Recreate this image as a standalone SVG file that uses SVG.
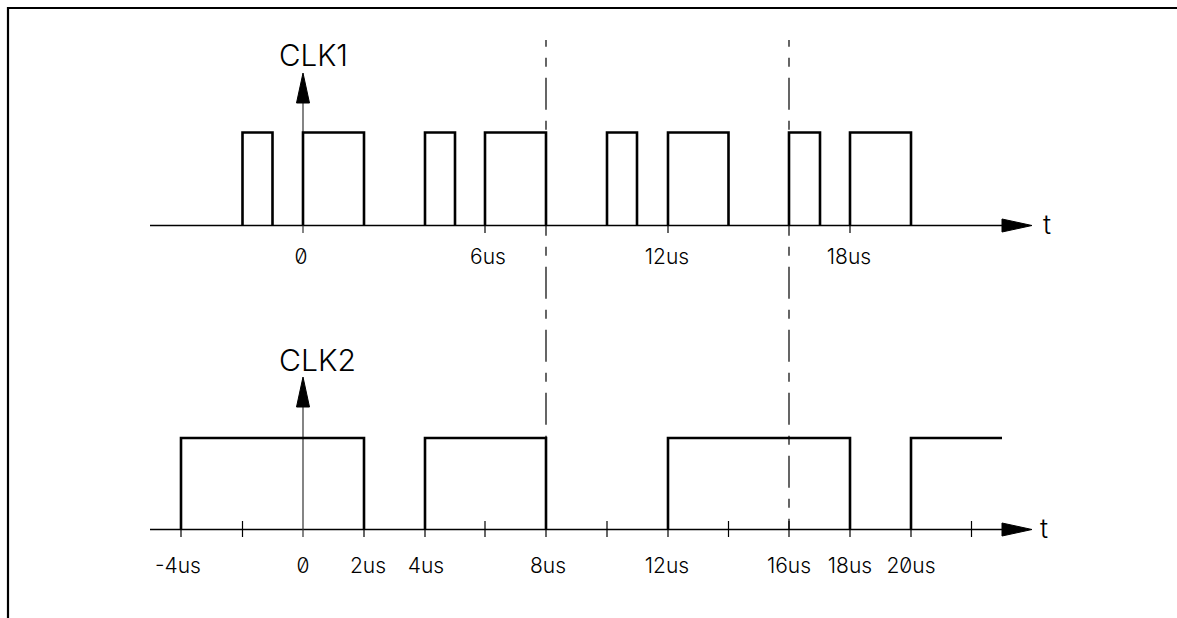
<svg xmlns="http://www.w3.org/2000/svg" width="1177" height="618" viewBox="0 0 1177 618">
  <defs>
    <style>
      .frame{fill:none;stroke:#000;stroke-width:2.2}
      .axis{fill:none;stroke:#000;stroke-width:1.3}
      .yaxis{fill:none;stroke:#333;stroke-width:1.2}
      .sig{fill:none;stroke:#000;stroke-width:2.6;stroke-linejoin:miter}
      .tick{fill:none;stroke:#000;stroke-width:1.2}
      .dd{fill:none;stroke:#000;stroke-width:1.2;stroke-dasharray:32 11 9 11;stroke-dashoffset:25.3}
      .lbl{font-family:Inter,"Liberation Sans",sans-serif;font-weight:300;font-size:21px;fill:#000;text-anchor:middle;font-variant-numeric:slashed-zero;font-feature-settings:"zero" 1}
      .title{font-family:Inter,"Liberation Sans",sans-serif;font-weight:300;font-size:30px;fill:#000;font-feature-settings:"zero" 1}
      .arrow{fill:#000;stroke:#000;stroke-width:1}
    </style>
  </defs>
  <rect width="1177" height="618" fill="#fff"/>
  <g id="frame">
    <polyline class="frame" points="8,618 8,8 1177,8"/>
  </g>

  <g id="clk1">
    <line class="axis" x1="150" y1="225.5" x2="1002" y2="225.5"/>
    <polygon class="arrow" points="1002,219 1032,225.5 1002,232"/>
    <text class="lbl" x="1047" y="234" style="font-size:27px">t</text>
    <line class="yaxis" x1="303" y1="233" x2="303" y2="100"/>
    <polygon class="arrow" points="296.5,103 303,73 309.5,103"/>
    <text class="title" x="279" y="66" textLength="69" lengthAdjust="spacingAndGlyphs">CLK1</text>
    <g class="tick">
      <line x1="485" y1="225" x2="485" y2="233"/>
      <line x1="668" y1="225" x2="668" y2="233"/>
      <line x1="850" y1="225" x2="850" y2="233"/>
    </g>
    <path class="sig" d="M242.5,225.5 V132.5 H272.5 V225.5 M303,225.5 V132.5 H364 V225.5 M425,225.5 V132.5 H455 V225.5 M485,225.5 V132.5 H546 V225.5 M607,225.5 V132.5 H637 V225.5 M668,225.5 V132.5 H728.5 V225.5 M789,225.5 V132.5 H820 V225.5 M850,225.5 V132.5 H911 V225.5"/>
    <text class="lbl" x="301" y="264">0</text>
    <text class="lbl" x="488" y="264">6us</text>
    <text class="lbl" x="667" y="264">12us</text>
    <text class="lbl" x="849" y="264">18us</text>
  </g>

  <g id="clk2">
    <line class="axis" x1="150" y1="529.5" x2="1002" y2="529.5"/>
    <polygon class="arrow" points="1002,523 1032,529.5 1002,536"/>
    <text class="lbl" x="1044" y="538" style="font-size:27px">t</text>
    <line class="yaxis" x1="303" y1="537" x2="303" y2="404"/>
    <polygon class="arrow" points="296.5,407 303,377 309.5,407"/>
    <text class="title" x="279" y="371" textLength="77" lengthAdjust="spacingAndGlyphs">CLK2</text>
    <g class="tick">
      <line x1="181" y1="521" x2="181" y2="537"/>
      <line x1="242.5" y1="521" x2="242.5" y2="537"/>
      <line x1="364" y1="521" x2="364" y2="537"/>
      <line x1="425" y1="521" x2="425" y2="537"/>
      <line x1="485" y1="521" x2="485" y2="537"/>
      <line x1="546" y1="521" x2="546" y2="537"/>
      <line x1="607" y1="521" x2="607" y2="537"/>
      <line x1="668" y1="521" x2="668" y2="537"/>
      <line x1="728.5" y1="521" x2="728.5" y2="537"/>
      <line x1="789" y1="521" x2="789" y2="537"/>
      <line x1="850" y1="521" x2="850" y2="537"/>
      <line x1="911" y1="521" x2="911" y2="537"/>
      <line x1="971.5" y1="521" x2="971.5" y2="537"/>
    </g>
    <path class="sig" d="M181,529.5 V438 H364 V529.5 M425,529.5 V438 H546 V529.5 M668,529.5 V438 H850 V529.5 M911,529.5 V438 H1002"/>
    <text class="lbl" x="178" y="573">-4us</text>
    <text class="lbl" x="303" y="573">0</text>
    <text class="lbl" x="368" y="573">2us</text>
    <text class="lbl" x="426" y="573">4us</text>
    <text class="lbl" x="548" y="573">8us</text>
    <text class="lbl" x="667" y="573">12us</text>
    <text class="lbl" x="789" y="573">16us</text>
    <text class="lbl" x="850" y="573">18us</text>
    <text class="lbl" x="911" y="573">20us</text>
  </g>

  <g id="connectors">
    <line class="dd" x1="546" y1="40" x2="546" y2="438"/>
    <line class="dd" x1="789" y1="40" x2="789" y2="529"/>
  </g>
</svg>
